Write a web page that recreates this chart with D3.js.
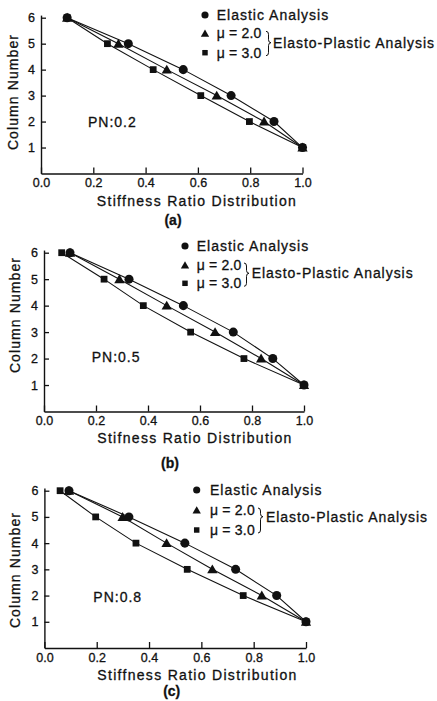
<!DOCTYPE html>
<html>
<head>
<meta charset="utf-8">
<script src="https://cdn.jsdelivr.net/npm/d3@7"></script>
<style>
  body { margin: 0; background: #fff; }
  svg text { font-family: "Liberation Sans", Arial, sans-serif; fill: #111; stroke: #111; stroke-width: 0.3px; }
</style>
</head>
<body>
<svg id="chart" width="437" height="701"></svg>
<script>
// column numbers (y) shared by all three panels
const columnNumbers = [6, 5, 4, 3, 2, 1];

// panel (a) PN 0.2
const elasticA = [0.10, 0.334, 0.544, 0.727, 0.891, 1.0];
const mu2A     = [0.10, 0.296, 0.481, 0.672, 0.853, 1.0];
const mu3A     = [0.10, 0.254, 0.429, 0.611, 0.797, 1.0];
// panel (b) PN 0.5
const elasticB = [0.10, 0.327, 0.536, 0.728, 0.880, 1.0];
const mu2B     = [0.10, 0.290, 0.472, 0.658, 0.835, 1.0];
const mu3B     = [0.068, 0.231, 0.382, 0.564, 0.769, 1.0];
// panel (c) PN 0.8
const elasticC = [0.094, 0.323, 0.537, 0.731, 0.888, 1.0];
const mu2C     = [0.094, 0.299, 0.467, 0.642, 0.831, 1.0];
const mu3C     = [0.060, 0.196, 0.350, 0.546, 0.760, 1.0];

const xTicks = [0, 0.2, 0.4, 0.6, 0.8, 1.0];
const yTicks = [1, 2, 3, 4, 5, 6];
const pnLabels = ["PN:0.2", "PN:0.5", "PN:0.8"];
const panelTags = ["(a)", "(b)", "(c)"];
const xTitles = ["Stiffness Ratio Distribution", "Stifness Ratio Distribution", "Stiffness Ratio Distribution"];
const legendLabels = ["Elastic Analysis", "\u03bc = 2.0", "\u03bc = 3.0"];
const groupLabel = "Elasto-Plastic Analysis";

const svg = d3.select("#chart");

// pixel layout of each panel
const layouts = [
    { x0: 41, x1: 302.5, y6: 17.7, yBase: 173.5, legX: 205, legTx: 216.7, legY: [15, 33.3, 52.7], braceX: 266, epX: 273, epY: 42.7, titleX: 197, titleY: 201.5, tagX: 173, tagY: 220.5, ylabX: 13, ylabY: 92, pnX: 88, pnY: 121.7 },
    { x0: 44, x1: 304, y6: 252.7, yBase: 411.5, legX: 185, legTx: 196.7, legY: [246, 265, 283.3], braceX: 244, epX: 251.7, epY: 273.3, titleX: 195, titleY: 438, tagX: 170, tagY: 463.5, ylabX: 15, ylabY: 315, pnX: 91.7, pnY: 356.7 },
    { x0: 44.4, x1: 306, y6: 490.7, yBase: 648, legX: 196.7, legTx: 210, legY: [490, 510, 530], braceX: 258, epX: 266, epY: 516.7, titleX: 197.5, titleY: 675.5, tagX: 171.7, tagY: 691.5, ylabX: 15, ylabY: 570, pnX: 93.3, pnY: 596.7 }
];

const panelSeries = [
    [elasticA, mu2A, mu3A],
    [elasticB, mu2B, mu3B],
    [elasticC, mu2C, mu3C]
];

const symbols = [d3.symbolCircle, d3.symbolTriangle, d3.symbolSquare];
const markerSize = [64, 46, 46];
const legendSize = [40, 30, 30];

layouts.forEach(function(L, p) {
    const unit = (L.yBase - L.y6) / 6;
    const x = d3.scaleLinear().domain([0, 1]).range([L.x0, L.x1]);
    const y = d3.scaleLinear().domain([0, 6.1]).range([L.yBase, L.yBase - 6.1 * unit]);

    const g = svg.append("g");

    // axes with inward ticks
    const xAxis = d3.axisBottom(x).tickValues(xTicks).tickFormat(d3.format(".1f"))
        .tickSizeInner(-6).tickSizeOuter(0).tickPadding(5);
    const yAxis = d3.axisLeft(y).tickValues(yTicks).tickFormat(d3.format("d"))
        .tickSizeInner(-5).tickSizeOuter(0).tickPadding(6);

    const gx = g.append("g").attr("transform", `translate(0,${L.yBase})`).call(xAxis);
    const gy = g.append("g").attr("transform", `translate(${L.x0},0)`).call(yAxis);
    [gx, gy].forEach(function(a) {
        a.select(".domain").attr("stroke", "#111").attr("stroke-width", 1.4);
        a.selectAll(".tick line").attr("stroke", "#111").attr("stroke-width", 1.3);
        a.selectAll(".tick text").attr("font-size", 12.5).attr("font-family", "Liberation Sans, Arial, sans-serif").attr("fill", "#111");
    });

    // series lines then markers
    const line = d3.line().x(d => x(d[0])).y(d => y(d[1]));
    panelSeries[p].forEach(function(vals, s) {
        const pts = vals.map((v, i) => [v, columnNumbers[i]]);
        g.append("path").attr("d", line(pts))
            .attr("fill", "none").attr("stroke", "#111").attr("stroke-width", 1.1);
    });
    panelSeries[p].slice().reverse().forEach(function(vals, r) {
        const s = 2 - r;
        const pts = vals.map((v, i) => [v, columnNumbers[i]]);
        g.selectAll(null).data(pts).enter().append("path")
            .attr("d", d3.symbol().type(symbols[s]).size(markerSize[s]))
            .attr("transform", d => `translate(${x(d[0])},${y(d[1]) + (s === 1 ? 1 : 0)})`)
            .attr("fill", "#111");
    });

    // legend
    legendLabels.forEach(function(lab, i) {
        g.append("path")
            .attr("d", d3.symbol().type(symbols[i]).size(legendSize[i]))
            .attr("transform", `translate(${L.legX},${L.legY[i] + (i === 1 ? 1 : 0)})`)
            .attr("fill", "#111");
        g.append("text").attr("x", L.legTx).attr("y", L.legY[i]).attr("dy", "0.35em")
            .attr("font-size", 14).attr("letter-spacing", i === 0 ? "1px" : "0.2px").text(lab);
    });
    const bx = L.braceX, bt = L.legY[1] - 2, bb = L.legY[2] + 3, bm = L.epY;
    g.append("path")
        .attr("d", `M${bx},${bt} Q${bx + 2.5},${bt} ${bx + 2.5},${bt + 3} L${bx + 2.5},${bm - 3} Q${bx + 2.5},${bm} ${bx + 5},${bm} Q${bx + 2.5},${bm} ${bx + 2.5},${bm + 3} L${bx + 2.5},${bb - 3} Q${bx + 2.5},${bb} ${bx},${bb}`)
        .attr("fill", "none").attr("stroke", "#111").attr("stroke-width", 1);
    g.append("text").attr("x", L.epX).attr("y", L.epY).attr("dy", "0.35em")
        .attr("font-size", 14).attr("letter-spacing", "0.95px").text(groupLabel);

    // annotation and titles
    g.append("text").attr("x", L.pnX).attr("y", L.pnY).attr("dy", "0.35em")
        .attr("font-size", 14).attr("letter-spacing", "1px").text(pnLabels[p]);
    g.append("text").attr("x", L.titleX).attr("y", L.titleY).attr("dy", "0.35em")
        .attr("text-anchor", "middle").attr("font-size", 14).attr("letter-spacing", "1.3px").text(xTitles[p]);
    g.append("text").attr("x", L.tagX).attr("y", L.tagY).attr("dy", "0.35em")
        .attr("text-anchor", "middle").attr("font-size", 14).attr("font-weight", "bold").text(panelTags[p]);
    g.append("text").attr("transform", `translate(${L.ylabX},${L.ylabY}) rotate(-90)`).attr("dy", "0.35em")
        .attr("text-anchor", "middle").attr("font-size", 14).attr("letter-spacing", "1.1px").text("Column Number");
});
</script>
</body>
</html>
